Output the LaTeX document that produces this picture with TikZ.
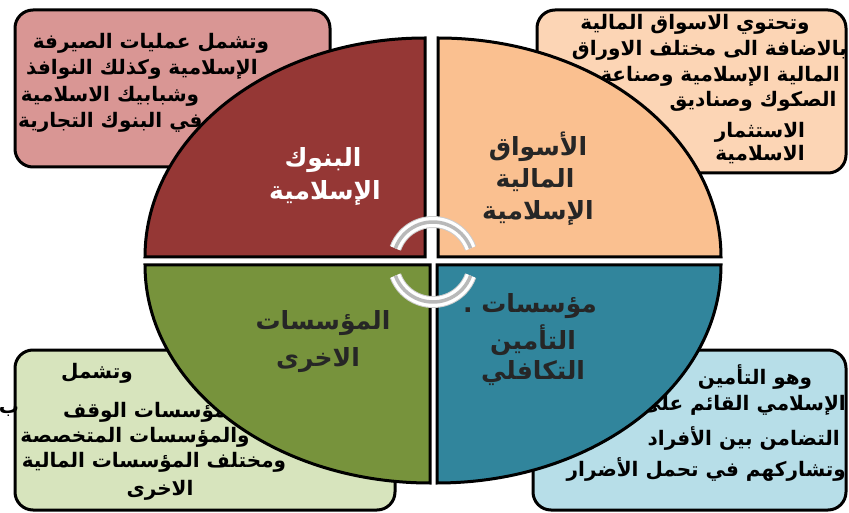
\documentclass[tikz,border=0pt]{standalone}
\usepackage{fontspec}
\newfontfamily\arabicfont[Script=Arabic]{DejaVu Sans}
\TeXXeTstate=1
\definecolor{qred}{HTML}{953735}
\definecolor{qorange}{HTML}{FAC090}
\definecolor{qgreen}{HTML}{77933C}
\definecolor{qblue}{HTML}{31859C}
\definecolor{bpink}{HTML}{D99694}
\definecolor{bpeach}{HTML}{FCD5B5}
\definecolor{bgreen}{HTML}{D7E4BD}
\definecolor{bblue}{HTML}{B7DEE8}
\newcommand{\artxt}[1]{\beginR #1\endR}
\begin{document}
\begin{tikzpicture}[x=1pt,y=-1pt,
  infobox/.style={draw=black, line width=3pt, rounded corners=18pt},
  quad/.style={draw=black, line width=3pt},
  boxtxt/.style={inner sep=0pt, font=\arabicfont\bfseries\fontsize{20}{22}\selectfont, text=black},
  quadtxt/.style={inner sep=0pt, font=\arabicfont\bfseries\fontsize{25}{28}\selectfont, text=black!85},
  arcout/.style={draw=gray!40, line width=12pt},
  arcmid/.style={draw=white, line width=10pt},
  arcin/.style={draw=gray!55, line width=3.5pt}]
\useasboundingbox (0,0) rectangle (849,513);

% corner boxes
\draw[infobox, fill=bpink]  (15,10) rectangle (330,167);
\draw[infobox, fill=bpeach] (537,10) rectangle (846,173);
\draw[infobox, fill=bgreen] (15,350) rectangle (395,510);
\draw[infobox, fill=bblue]  (533,350) rectangle (846,510);

% top-left text
\node[boxtxt] (tl1) at (151,43) {\artxt{وتشمل عمليات الصيرفة}};
\node[boxtxt] (tl2) at (142,69) {\artxt{الإسلامية وكذلك النوافذ}};
\node[boxtxt] (tl3) at (110,96) {\artxt{وشبابيك الاسلامية}};
\node[boxtxt, anchor=west] (tl4) at (18,122) {\artxt{في البنوك التجارية}};

% top-right text
\node[boxtxt] (tr1) at (695,24) {\artxt{وتحتوي الاسواق المالية}};
\node[boxtxt, anchor=east] (tr2) at (847,50) {\artxt{بالاضافة الى مختلف الاوراق}};
\node[boxtxt, anchor=east] (tr3) at (840,76) {\artxt{المالية الإسلامية وصناعة}};
\node[boxtxt] (tr4) at (753,101) {\artxt{الصكوك وصناديق}};
\node[boxtxt] (tr5) at (760,132) {\artxt{الاستثمار}};
\node[boxtxt] (tr6) at (760,155) {\artxt{الاسلامية}};

% bottom-left text
\node[boxtxt] (bl1) at (97,373) {\artxt{وتشمل}};
\node[boxtxt] (blb) at (9,412) {\artxt{ب}};
\node[boxtxt, anchor=west] (bl2) at (63,412) {\artxt{المؤسسات الوقف}};
\node[boxtxt] (bl3) at (135,437) {\artxt{والمؤسسات المتخصصة}};
\node[boxtxt] (bl4) at (154,462) {\artxt{ومختلف المؤسسات المالية}};
\node[boxtxt] (bl5) at (160,490) {\artxt{الاخرى}};

% bottom-right text
\node[boxtxt] (br1) at (755,377) {\artxt{وهو التأمين}};
\node[boxtxt, anchor=east] (br2) at (846,405) {\artxt{الإسلامي القائم على}};
\node[boxtxt, anchor=east] (br3) at (840,438) {\artxt{التضامن بين الأفراد}};
\node[boxtxt, anchor=east] (br4) at (846,470) {\artxt{وتشاركهم في تحمل الأضرار}};

% quadrants
\draw[quad, fill=qred] (425,257) -- (145,257) arc[start angle=180, end angle=270, x radius=280, y radius=219] -- cycle;
\draw[quad, fill=qorange] (438,257) -- (438,38) arc[start angle=270, end angle=360, x radius=283, y radius=219] -- cycle;
\draw[quad, fill=qgreen] (430,265) -- (430,483) arc[start angle=90, end angle=180, x radius=285, y radius=218] -- cycle;
\draw[quad, fill=qblue] (437,265) -- (721,265) arc[start angle=0, end angle=90, x radius=284, y radius=218] -- cycle;

% quadrant labels
\node[quadtxt, text=white] (q1a) at (323,160) {\artxt{البنوك}};
\node[quadtxt, text=white] (q1b) at (325,193) {\artxt{الإسلامية}};
\node[quadtxt] (q2a) at (538,147) {\artxt{الأسواق}};
\node[quadtxt] (q2b) at (535,180) {\artxt{المالية}};
\node[quadtxt] (q2c) at (538,213) {\artxt{الإسلامية}};
\node[quadtxt] (q3a) at (323,323) {\artxt{المؤسسات}};
\node[quadtxt] (q3b) at (318,360) {\artxt{الاخرى}};
\node[quadtxt] (q4a) at (530,306) {\artxt{مؤسسات .}};
\node[quadtxt] (q4b) at (533,340) {\artxt{التأمين}};
\node[quadtxt] (q4c) at (533,373) {\artxt{التكافلي}};

% circular arrows
\coordinate (ta) at (395.4,248.3);
\coordinate (ba) at (470.6,275.7);
\foreach \s in {arcout,arcmid,arcin}{
  \draw[\s] (ta) arc[start angle=200, end angle=340, radius=40];
  \draw[\s] (ba) arc[start angle=20, end angle=160, radius=40];
}
\end{tikzpicture}
\end{document}
